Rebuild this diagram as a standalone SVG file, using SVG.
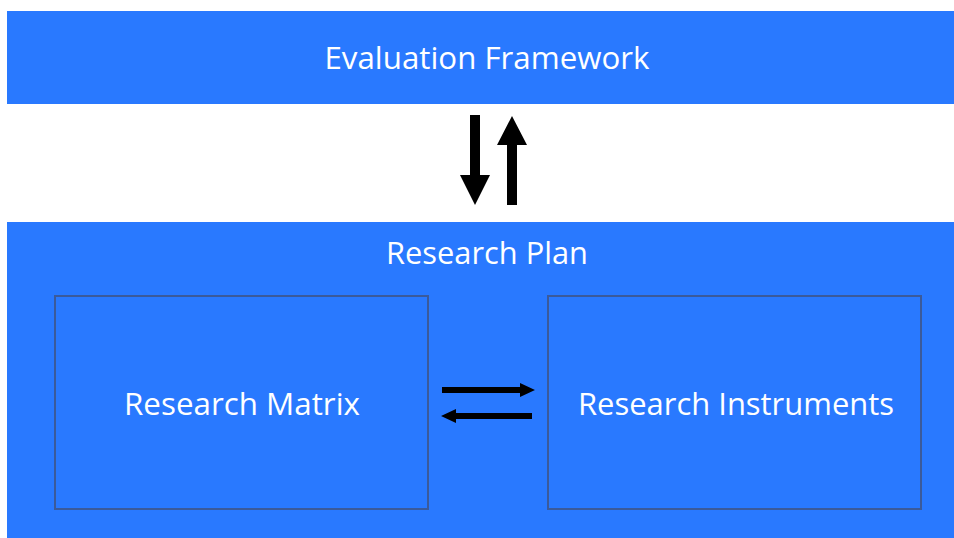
<svg xmlns="http://www.w3.org/2000/svg" width="954" height="538" viewBox="0 0 954 538">
<style>
.blk{fill:#2979ff}
.inner{fill:#2979ff;stroke:#3b5a9a;stroke-width:2}
.t{font-family:"Open Sans","Noto Sans",sans-serif;fill:#ffffff;text-anchor:middle;font-size:31px}
.arr{fill:#000000}
</style>
<rect width="954" height="538" fill="#ffffff"/>
<g id="evaluation-framework">
<rect class="blk" x="7" y="11" width="947" height="93"/>
<text class="t" x="487" y="69" textLength="325" lengthAdjust="spacingAndGlyphs">Evaluation Framework</text>
</g>
<g id="research-plan">
<rect class="blk" x="7" y="222" width="947" height="316"/>
<text class="t" x="487" y="264" textLength="202" lengthAdjust="spacingAndGlyphs">Research Plan</text>
</g>
<g id="research-matrix">
<rect class="inner" x="55" y="296" width="373" height="213"/>
<text class="t" x="242" y="415" textLength="236" lengthAdjust="spacingAndGlyphs">Research Matrix</text>
</g>
<g id="research-instruments">
<rect class="inner" x="548" y="296" width="373" height="213"/>
<text class="t" x="736" y="415" textLength="316" lengthAdjust="spacingAndGlyphs">Research Instruments</text>
</g>
<g id="connectors">
<polygon class="arr" points="470,115 480,115 480,175 490,175 475,205 460,175 470,175"/>
<polygon class="arr" points="507,205 517,205 517,145 527,145 512,116 497,145 507,145"/>
<polygon class="arr" points="442,387 520,387 520,383 535,390 520,397 520,393 442,393"/>
<polygon class="arr" points="532,413 456,413 456,409 441,416 456,423 456,419 532,419"/>
</g>
</svg>
